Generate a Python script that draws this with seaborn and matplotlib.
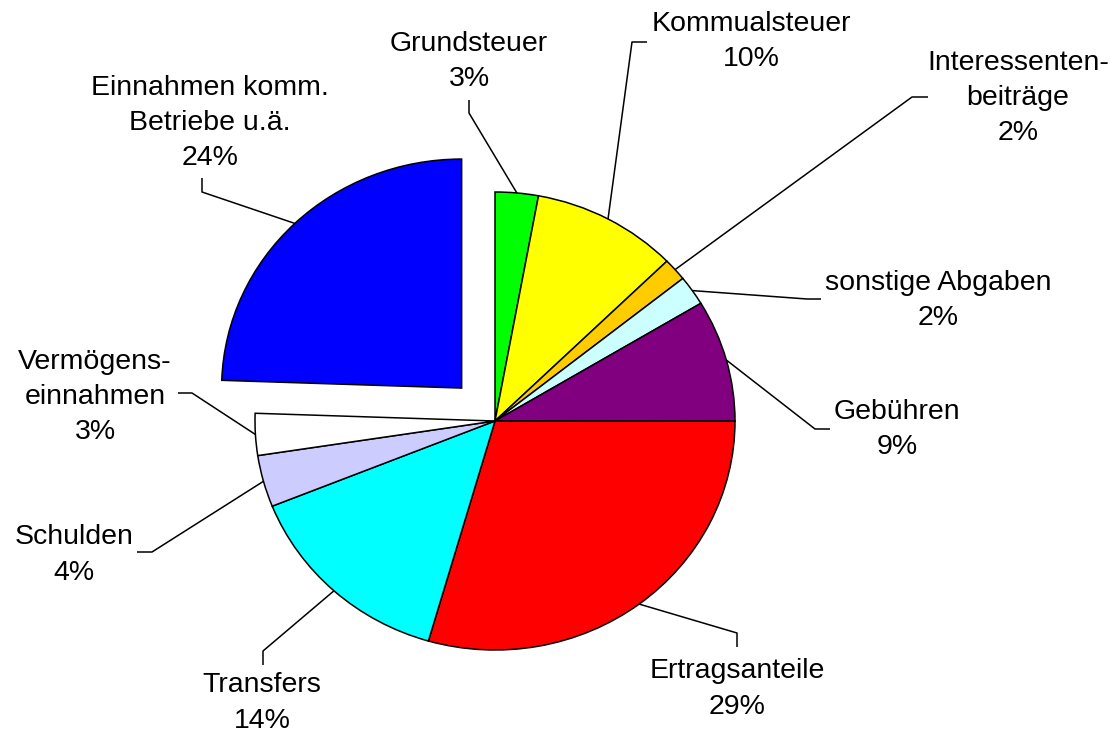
import numpy as np
import matplotlib
matplotlib.use("Agg")
import matplotlib.pyplot as plt
import seaborn as sns

# data (shares in percent, clockwise from 12 o'clock)
categories = [
    "Grundsteuer",
    "Kommualsteuer",
    "Interessenten-\nbeiträge",
    "sonstige Abgaben",
    "Gebühren",
    "Ertragsanteile",
    "Transfers",
    "Schulden",
    "Vermögens-\neinnahmen",
    "Einnahmen komm.\nBetriebe u.ä.",
]
shares = [2.9, 9.8, 1.6, 2.1, 8.6, 29.45, 14.45, 3.65, 2.95, 24.45]
colors = ["#00FF00", "#FFFF00", "#FFCC00", "#CCFFFF", "#800080",
          "#FF0000", "#00FFFF", "#CCCCFF", "#FFFFFF", "#0000FF"]
explode = [0, 0, 0, 0, 0, 0, 0, 0, 0, 0.2]

# label layout in pixels: text block centre, leader elbow, leader end
label_pos = [(469, 62), (751, 42), (1018, 98), (938, 301), (897, 430),
             (737, 689), (262, 703), (74, 555), (95, 397), (210, 123)]
elbows = [(469, 113), (632, 42), (912, 97), (807, 299), (815, 429),
          (737, 633), (263, 651), (152, 552), (192, 393), (202, 192)]
ends = [(469, 100), (647, 42), (928, 97), (821, 299), (830, 429),
        (737, 647), (263, 665), (137, 552), (178, 393), (202, 178)]

W, H = 1116, 735
R = 240
K = 240 / 229  # slight vertical squash of the pie, as in the original


def px(x, y):
    return x, (H - y) * K


sns.set_theme(style="white")
plt.rcParams["font.family"] = ["Liberation Sans", "DejaVu Sans"]

fig = plt.figure(figsize=(W / 100, H / 100), dpi=100)
ax = fig.add_axes([0, 0, 1, 1])

wedges, _ = ax.pie(
    shares,
    colors=sns.color_palette(colors),
    explode=[e * R for e in explode],
    startangle=90,
    counterclock=False,
    radius=R,
    center=px(495, 421),
    wedgeprops=dict(edgecolor="black", linewidth=1.1),
)

ax.set_aspect("auto")
ax.set_xlim(0, W)
ax.set_ylim(0, H * K)
ax.axis("off")

for w, name, v, lp, el, en in zip(wedges, categories, shares, label_pos, elbows, ends):
    mid = np.deg2rad((w.theta1 + w.theta2) / 2)
    cx, cy = w.center
    start = (cx + w.r * np.cos(mid), cy + w.r * np.sin(mid))
    p1 = px(*el)
    p2 = px(*en)
    ax.plot([start[0], p1[0], p2[0]], [start[1], p1[1], p2[1]],
            color="black", linewidth=1.1, solid_capstyle="butt")
    tx, ty = px(*lp)
    ax.text(tx, ty, f"{name}\n{v:.0f}%", ha="center", va="center",
            multialignment="center", fontsize=20.5, linespacing=1.45,
            color="black")

fig.savefig("out.png", dpi=100)
